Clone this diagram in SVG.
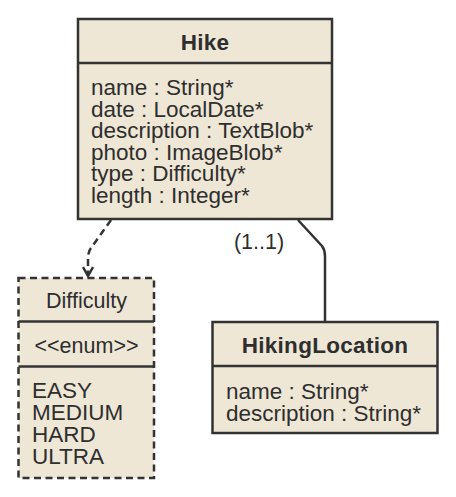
<svg xmlns="http://www.w3.org/2000/svg" width="456" height="497" viewBox="0 0 456 497">
<defs>
<style>
.box{fill:#eee7d6;stroke:#333;stroke-width:2.5}
.dash{stroke-dasharray:7 4.5}
.div{stroke:#333;stroke-width:2.5}
text{font-family:"Liberation Sans",Arial,sans-serif;font-size:22.5px;fill:#2e2e2e}
.t{font-weight:bold;text-anchor:middle;letter-spacing:0.3px}
.c{text-anchor:middle}
.s{font-size:21.5px}
.edge{fill:none;stroke:#333;stroke-width:2.5}
</style>
<marker id="arr" viewBox="0 0 12 12" refX="10" refY="6" markerWidth="12" markerHeight="12" markerUnits="userSpaceOnUse" orient="auto">
<path d="M1,1 L10,6 L1,11" fill="none" stroke="#333" stroke-width="2.5"/>
</marker>
</defs>
<g id="connectors">
<path class="edge dash" d="M111,220 L91,248 Q88,252 88,258 L88,276" marker-end="url(#arr)"/>
<path class="edge" d="M298,220 L322,246 Q325,250 325,256 L325,321"/>
<text x="259" y="248.5" class="c s">(1..1)</text>
</g>
<g id="Hike">
<rect class="box" x="78" y="19" width="254" height="200"/>
<line class="div" x1="78" y1="63" x2="332" y2="63"/>
<text x="205" y="49.5" class="t">Hike</text>
<text x="91" y="95">name : String*</text>
<text x="91" y="116.6">date : LocalDate*</text>
<text x="91" y="138.2">description : TextBlob*</text>
<text x="91" y="159.8">photo : ImageBlob*</text>
<text x="91" y="181.4">type : Difficulty*</text>
<text x="91" y="203">length : Integer*</text>
</g>
<g id="Difficulty">
<rect class="box dash" x="18.5" y="278" width="135.5" height="200"/>
<line class="div" x1="18.5" y1="321.5" x2="154" y2="321.5"/>
<line class="div" x1="18.5" y1="366.5" x2="154" y2="366.5"/>
<text x="86.5" y="307.5" class="c s">Difficulty</text>
<text x="86.5" y="352.5" class="c s">&lt;&lt;enum&gt;&gt;</text>
<text x="32" y="398">EASY</text>
<text x="32" y="420">MEDIUM</text>
<text x="32" y="442">HARD</text>
<text x="32" y="463.5">ULTRA</text>
</g>
<g id="HikingLocation">
<rect class="box" x="212.5" y="322" width="225" height="111"/>
<line class="div" x1="212.5" y1="366" x2="437.5" y2="366"/>
<text x="325" y="352.5" class="t">HikingLocation</text>
<text x="226" y="398.5">name : String*</text>
<text x="226" y="420.5">description : String*</text>
</g>
</svg>
